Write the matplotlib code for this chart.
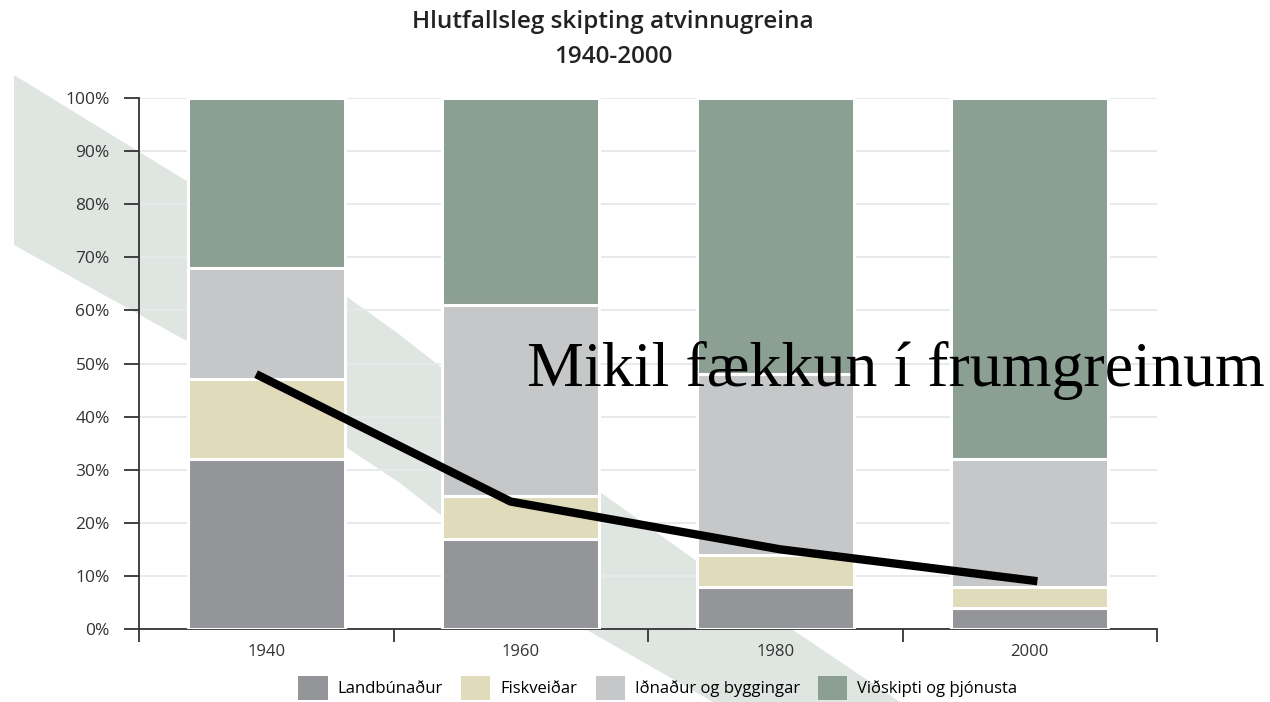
import matplotlib
matplotlib.use("Agg")
import matplotlib.pyplot as plt
from matplotlib.patches import Polygon, Patch
import numpy as np

years = ["1940", "1960", "1980", "2000"]
series_names = ["Landbúnaður", "Fiskveiðar", "Iðnaður og byggingar", "Viðskipti og þjónusta"]
landbunadur = [32, 17, 8, 4]
fiskveidar = [15, 8, 6, 4]
idnadur = [21, 36, 34, 24]
vidskipti = [32, 39, 52, 68]
trend = [48, 24, 15, 9]
yticks = [0, 10, 20, 30, 40, 50, 60, 70, 80, 90, 100]
colors = ["#949598", "#e0dcbb", "#c6c7c9", "#8c9f93"]

W, H = 1270, 702
fig = plt.figure(figsize=(W / 100, H / 100), dpi=100)
fig.patch.set_facecolor("white")

# decorative diagonal band (figure pixel coords)
top_edge = [(14, 75), (185, 180), (400, 335), (600, 492), (793, 630), (900, 702)]
bot_edge = [(713, 702), (587, 630), (400, 483), (185, 340), (14, 245)]
pts = [(px / W, 1 - py / H) for px, py in top_edge + bot_edge]
fig.patches.append(Polygon(pts, closed=True, transform=fig.transFigure,
                           facecolor="#dfe5e1", edgecolor="none", zorder=-5))

ax = fig.add_axes([139 / W, 1 - 629 / H, (1157 - 139) / W, (629 - 98) / H])
ax.patch.set_visible(False)

x = np.arange(len(years))
bottom = np.zeros(len(years))
for vals, c, name in zip([landbunadur, fiskveidar, idnadur, vidskipti], colors, series_names):
    ax.bar(x, vals, bottom=bottom, width=0.615, color=c, edgecolor="white",
           linewidth=2.2, zorder=3, label=name)
    bottom += np.array(vals)

line_x = x + np.array([-0.04, -0.04, 0.02, 0.03])
ax.plot(line_x, trend, color="black", linewidth=6, solid_capstyle="butt", zorder=5)

ax.set_xlim(-0.5, 3.5)
ax.set_ylim(0, 100)
ax.set_yticks(yticks)
ax.set_yticklabels([f"{v}%" for v in yticks], fontsize=12.5, color="#333333", family="Open Sans")
ax.yaxis.grid(True, color="#e6eaea", linewidth=1.4, zorder=1)
ax.set_axisbelow(True)

ax.set_xticks(x)
ax.set_xticklabels(years, fontsize=12, color="#333333", family="Open Sans")
ax.tick_params(axis="x", length=0, pad=11)
ax.set_xticks(np.arange(-0.5, 4.0, 1.0), minor=True)
ax.tick_params(axis="x", which="minor", length=9, width=1.3, color="#333333", direction="out")
ax.tick_params(axis="y", length=11, width=1.3, color="#333333", direction="out", pad=10)

for s in ["top", "right"]:
    ax.spines[s].set_visible(False)
ax.spines["left"].set_color("#333333")
ax.spines["left"].set_linewidth(1.3)
ax.spines["bottom"].set_color("#333333")
ax.spines["bottom"].set_linewidth(1.3)

fig.text(613 / W, 1 - 22 / H, "Hlutfallsleg skipting atvinnugreina",
         ha="center", va="center", fontsize=17.5, fontweight="semibold",
         family="Open Sans", color="#222222")
fig.text(613 / W, 1 - 57 / H, "1940-2000",
         ha="center", va="center", fontsize=17.5, fontweight="semibold",
         family="Open Sans", color="#222222")
fig.text(527 / W, 1 - 371 / H, "Mikil fækkun í frumgreinum", ha="left", va="center",
         fontsize=46, family="Liberation Serif", color="black", zorder=10)

handles = [Patch(facecolor=c, edgecolor="none") for c in colors]
fig.legend(handles, series_names, loc="center", bbox_to_anchor=(658 / W, 1 - 688 / H),
           ncol=4, frameon=False, handlelength=1.75, handleheight=1.75,
           columnspacing=1.1, handletextpad=0.6,
           prop={"family": "Open Sans", "size": 12})

fig.savefig("out.png", dpi=100)
